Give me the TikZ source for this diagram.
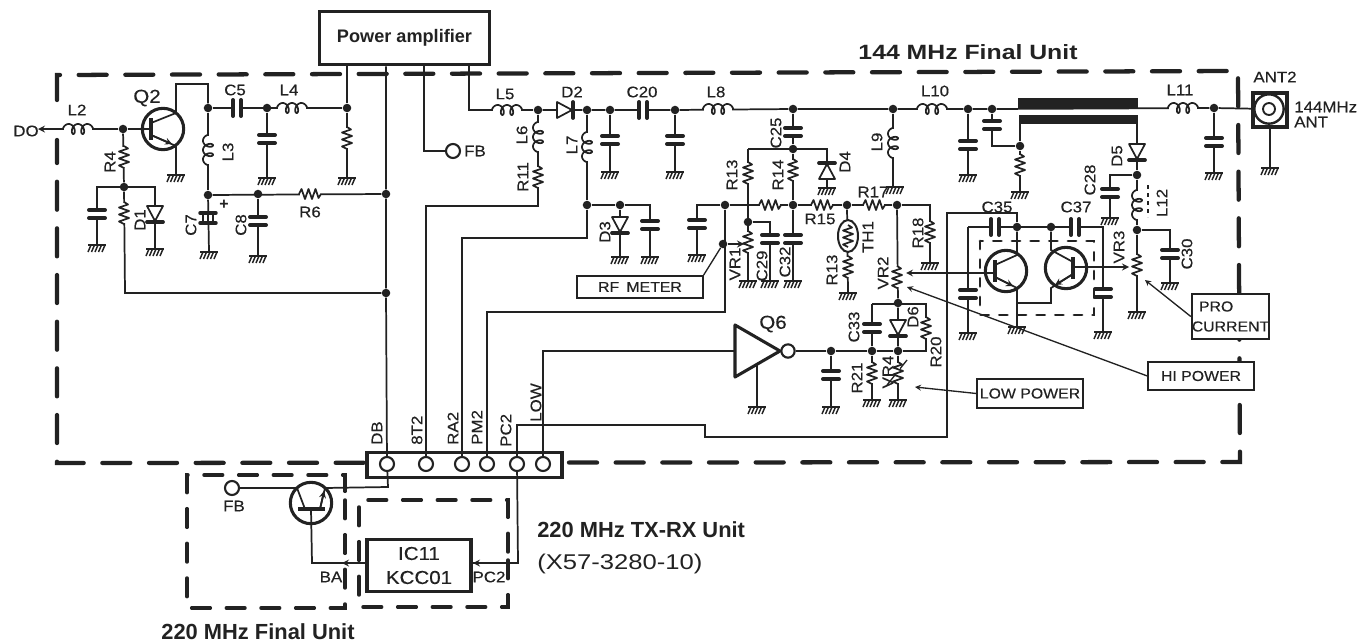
\documentclass[tikz,border=0pt]{standalone}
\usepackage{fontspec}
\setmainfont{Liberation Sans}
\newfontfamily\schemfont[FakeStretch=1.1, FakeBold=0.35]{Liberation Sans}
\newfontfamily\titlefont[FakeStretch=1.2]{Liberation Sans}
\usetikzlibrary{shapes.geometric}
\definecolor{schem}{HTML}{222222}
\tikzset{
    wire/.style={line width=1.3pt},
    note/.style={line width=1pt},
    dot/.style={circle, fill, inner sep=0pt, minimum size=6.4pt},
    lbl/.style={font=\schemfont\fontsize{11.5}{13}\selectfont, inner sep=0pt},
    bigtext/.style={font=\bfseries\fontsize{16.4}{18}\selectfont, inner sep=0pt},
    tagbox/.style={draw, fill=white, line width=1.5pt, inner sep=0pt, font=\schemfont\fontsize{10.8}{15}\selectfont},
    hole/.style={circle, draw, fill=white, line width=1.6pt, inner sep=0pt, minimum size=10.5pt},
    qcirc/.style={circle, draw, line width=2.3pt, inner sep=0pt, minimum size=31pt},
    unitdash/.style={line width=3.2pt, line cap=round, dash pattern=on 21pt off 14pt},
    subdash/.style={line width=2.6pt, line cap=round, dash pattern=on 14pt off 12pt},
    moddash/.style={line width=2.2pt, line cap=round, dash pattern=on 6pt off 8pt},
    res/.pic={
        \fill[white] (-10,-2) rectangle (10,2);
        \draw[wire, line join=round] (-11,0) -- (-8.5,-5) -- (-5,5) -- (-1.5,-5) -- (2,5) -- (5.5,-5) -- (8.5,4) -- (11,0);
    },
    ind/.pic={
        \fill[white] (-14,-2) rectangle (14,2);
        \draw[wire] plot[smooth, domain=90:990, samples=73, variable=\t] ({0.026*(\t-540)-3.5*sin(\t)},{5*cos(\t)});
    },
    cap/.pic={
        \fill[white] (-3,-3) rectangle (3,3);
        \draw[line width=3pt, line cap=round] (-4,-8) -- (-4,8) (4,-8) -- (4,8);
    },
    ecap/.pic={
        \fill[white] (-3,-3) rectangle (3,3);
        \draw[line width=2.6pt, line cap=round] (-5,-8) -- (-5,8) (5,-8) -- (5,8);
        \draw[wire] (-5,-5) -- (5,-5) (-5,0) -- (5,0) (-5,5) -- (5,5);
    },
    diode/.pic={
        \draw[wire, fill=white, line join=round] (-8,-8) -- (-8,8) -- (7,0) -- cycle;
        \draw[line width=2.8pt, line cap=round] (8,-8) -- (8,8);
    },
    gnd/.pic={
        \coordinate (-c) at (0,0);
        \draw[line width=1.8pt] (-9,0) -- (9,0);
        \draw[line width=1.1pt] (-6,0) -- (-9,7) (-2.5,0) -- (-5.5,7) (1,0) -- (-2,7) (4.5,0) -- (1.5,7) (8,0) -- (5,7);
    },
}
\begin{document}
\begin{tikzpicture}[x=.75pt, y=-.75pt, color=schem]
    \useasboundingbox (0,0) rectangle (1363,642);

    % Unit outlines
    \draw[unitdash] (57,100) -- (57,75) -- (1238,71) -- (1240,462) -- (57,463) -- (57,140);
    \draw[subdash] (345,500) -- (345,608) -- (187,608) -- (187,475) -- (345,475) -- cycle;
    \draw[subdash] (508,560) -- (508,607) -- (359,607) -- (359,500) -- (508,500) -- cycle;
    \draw[moddash] (980,241) rectangle (1094,315);

    % Boxes
    \node (pa) [draw, fill=white, line width=2.4pt, minimum width=128pt, minimum height=40pt, inner sep=0pt, font=\bfseries\fontsize{13.6}{15}\selectfont] at (404.5,38) {Power amplifier};
    \node (rfmeter) [tagbox, minimum width=94pt, minimum height=16.5pt] at (640,287) {RF\enspace METER};
    \node (hipower) [tagbox, minimum width=79pt, minimum height=21pt] at (1201,376) {HI POWER};
    \node (lowpower) [tagbox, minimum width=79pt, minimum height=21.5pt] at (1030,393.5) {LOW POWER};
    \node (procurrent) [tagbox, minimum width=56pt, minimum height=34pt, align=left] at (1230.5,316.5) {\enspace PRO\\CURRENT};
    \node (ic11) [draw, fill=white, line width=2.4pt, minimum width=78pt, minimum height=39pt, inner sep=0pt, align=center, font=\schemfont\fontsize{14}{18}\selectfont] at (419,565.5) {IC11\\KCC01};
    \node (strip) [draw, fill=white, line width=2.6pt, minimum width=146pt, minimum height=19pt, inner sep=0pt] at (464.5,465) {};
    \node (hDB) [hole] at (387,464) {};
    \node (hBT) [hole] at (426,464) {};
    \node (hRA) [hole] at (462,464) {};
    \node (hPM) [hole] at (487,464) {};
    \node (hPC) [hole] at (517,464) {};
    \node (hLOW) [hole] at (543,464) {};
    \node (ant) [draw, line width=2.8pt, minimum size=26pt, inner sep=0pt] at (1270,110) {};
    \node (antA) [circle, draw, line width=1.8pt, minimum size=22pt, inner sep=0pt] at (1269,109) {};
    \node (antB) [circle, draw, fill=white, line width=1.4pt, minimum size=9pt, inner sep=0pt] at (1269,109) {};
    \node (fbA) [hole] at (453,151) {};
    \node (fbB) [hole] at (232,488) {};

    % Junctions
    \node (jBase) [dot] at (123,129) {};
    \node (jC5a) [dot] at (208,108) {};
    \node (jC5b) [dot] at (267,108) {};
    \node (jL4) [dot] at (347,108) {};
    \node (jR6a) [dot] at (208,195) {};
    \node (jC8) [dot] at (258,194) {};
    \node (jR6b) [dot] at (386,194) {};
    \node (jR4) [dot] at (124,187) {};
    \node (jDB) [dot] at (386,293) {};
    \node (jL5) [dot] at (538,110) {};
    \node (jD2) [dot] at (587,110) {};
    \node (jCa) [dot] at (610,110) {};
    \node (jC20) [dot] at (675,110) {};
    \node (jC25) [dot] at (793,109) {};
    \node (jL9) [dot] at (893,109) {};
    \node (jC25b) [dot] at (793,149) {};
    \node (jL7) [dot] at (587,205) {};
    \node (jD3) [dot] at (620,205) {};
    \node (jPM) [dot] at (725,205) {};
    \node (jR14) [dot] at (793,205) {};
    \node (jTH) [dot] at (847,205) {};
    \node (jVRtwo) [dot] at (897,205) {};
    \node (jVRone) [dot] at (748,222) {};
    \node (jRF) [dot] at (723,244) {};
    \node (jVRlow) [dot] at (898,303) {};
    \node (jQsix) [dot] at (831,351) {};
    \node (jC33) [dot] at (872,351) {};
    \node (jD6) [dot] at (898,351) {};
    \node (jLa) [dot] at (968,109) {};
    \node (jLb) [dot] at (992,109) {};
    \node (jLc) [dot] at (1020,146) {};
    \node (jC35) [dot] at (1017,227) {};
    \node (jC37) [dot] at (1051,227) {};
    \node (jD5) [dot] at (1137,175) {};
    \node (jL12) [dot] at (1137,230) {};
    \node (jL11) [dot] at (1214,108) {};

    % Grounds
    \pic (gQ2) at (176,175) {gnd};
    \pic (gC5) at (267,178) {gnd};
    \pic (gL4) at (347,178) {gnd};
    \pic (gC7) at (209,252) {gnd};
    \pic (gC8) at (258,256) {gnd};
    \pic (gCa) at (97,245) {gnd};
    \pic (gD1) at (155,249) {gnd};
    \pic (gCb) at (610,172) {gnd};
    \pic (gCc) at (675,172) {gnd};
    \pic (gD3) at (620,257) {gnd};
    \pic (gCd) at (650,257) {gnd};
    \pic (gCe) at (697,255) {gnd};
    \pic (gVRone) at (748,281) {gnd};
    \pic (gC29) at (770,281) {gnd};
    \pic (gC32) at (793,281) {gnd};
    \pic (gD4) at (827,188) {gnd};
    \pic (gL9) at (895,187) {gnd};
    \pic (gR18) at (930,263) {gnd};
    \pic (gTH) at (848,293) {gnd};
    \pic (gQsix) at (757,407) {gnd};
    \pic (gCf) at (831,407) {gnd};
    \pic (gR21) at (872,400) {gnd};
    \pic (gVRfour) at (898,400) {gnd};
    \pic (gCg) at (968,175) {gnd};
    \pic (gLc) at (1020,192) {gnd};
    \pic (gC28) at (1110,218) {gnd};
    \pic (gC30) at (1170,283) {gnd};
    \pic (gVRthree) at (1137,312) {gnd};
    \pic (gCh) at (1214,173) {gnd};
    \pic (gAnt) at (1270,168) {gnd};
    \pic (gCi) at (968,333) {gnd};
    \pic (gQa) at (1017,327) {gnd};
    \pic (gCj) at (1103,332) {gnd};

    % Wires: input stage
    \coordinate (din) at (38,129);
    \coordinate (qtwoB) at (151,129);
    \draw[wire, -stealth] (jBase) -- (din);
    \draw[wire] (jBase) -- (qtwoB);
    \draw[wire] (jBase) -- (jR4);
    \draw[wire] (jR4) -- (125,293) -- (jDB);
    \draw[wire] (97,245) -- (97,187) -- (155,187) -- (gD1-c);
    \draw[wire] (jC5a) -- (jL4);
    \draw[wire] (jC5a) -- (jR6a);
    \draw[wire] (jC5b) -- (gC5-c);
    \draw[wire] (jL4) -- (gL4-c);
    \draw[wire] (jR6a) -- (jR6b);
    \draw[wire] (jR6a) -- (gC7-c);
    \draw[wire] (jC8) -- (gC8-c);

    % Wires: from the amplifier box
    \draw[wire] (pa.south -| jL4) -- (jL4);
    \draw[wire] (pa.south -| jR6b) -- (jR6b) -- (jDB) -- (hDB);
    \draw[wire] (424,65) -- (424,151) -- (fbA);
    \draw[wire] (469,65) -- (469,110) -- (jL5);

    % Wires: main line
    \draw[wire] (jL5) -- (jD2) -- (jCa) -- (jC20) -- (jC25) -- (jL9) -- (jLa) -- (jLb) -- (jL11) -- (antA);
    \draw[wire] (jL5) -- (538,206) -- (426,206) -- (hBT);
    \draw[wire] (jD2) -- (jL7) -- (587,238) -- (462,238) -- (hRA);
    \draw[wire] (jL7) -- (jD3) -- (650,205) -- (gCd-c);
    \draw[wire] (jD3) -- (gD3-c);
    \draw[wire] (jCa) -- (gCb-c);
    \draw[wire] (jC20) -- (gCc-c);
    \draw[wire] (jC25) -- (jC25b) -- (jR14) -- (gC32-c);
    \draw[wire] (jL9) -- (893,187);
    \draw[wire] (748,149) -- (827,149) -- (gD4-c);
    \draw[wire] (748,149) -- (gVRone-c);
    \draw[wire] (697,255) -- (697,205) -- (jPM) -- (jR14) -- (jTH) -- (jVRtwo) -- (930,205) -- (gR18-c);
    \draw[wire] (jPM) -- (725,312) -- (487,312) -- (hPM);
    \draw[wire] (jVRone) -- (770,222) -- (gC29-c);
    \draw[wire] (jTH) -- (gTH-c);
    \draw[wire] (jVRtwo) -- (jVRlow) -- (jD6);
    \draw[wire] (872,304) -- (926,304) -- (926,351) -- (jD6);
    \draw[wire] (872,304) -- (jC33);
    \draw[wire, -stealth] (jRF) -- (744,244);

    % Wires: Q6 stage
    \node (qsixinv) [circle, draw, line width=1.6pt, minimum size=10pt, inner sep=0pt] at (788,351) {};
    \draw[line width=2.3pt, fill=white, line join=round] (735,325) -- (735,377) -- (780,351) -- cycle;
    \draw[wire] (735,351) -- (543,351) -- (hLOW);
    \draw[wire] (757,364) -- (gQsix-c);
    \draw[wire] (qsixinv) -- (jQsix) -- (jC33) -- (jD6);
    \draw[wire] (jQsix) -- (gCf-c);
    \draw[wire] (jC33) -- (gR21-c);
    \draw[wire] (jD6) -- (gVRfour-c);

    % Wires: output stage
    \draw[wire] (jLa) -- (gCg-c);
    \draw[wire] (jLb) -- (992,146) -- (jLc) -- (gLc-c);
    \draw[wire] (1020,124) -- (jLc);
    \draw[wire] (1137,124) -- (jD5) -- (jL12) -- (gVRthree-c);
    \draw[wire] (jD5) -- (1110,175) -- (gC28-c);
    \draw[wire] (jL12) -- (1170,230) -- (gC30-c);
    \draw[wire] (jL11) -- (gCh-c);
    \draw[wire] (ant) -- (gAnt-c);
    \fill (1018,98) rectangle (1138,109);
    \fill (1019,115) rectangle (1138,124);
    \draw[wire] (968,227) -- (1103,227) -- (gCj-c);
    \draw[wire] (968,227) -- (gCi-c);
    \draw[wire] (jC35) -- (1017,213) -- (947,213) -- (947,437) -- (705,437) -- (705,425) -- (517,425) -- (hPC);
    \draw[wire] (hPC) -- (518,563) -- (ic11.east |- 518,563);
    \draw[wire, -stealth] (518,563) -- (473,563);

    % Transistors
    \node (qtwo) [qcirc] at (163,129) {};
    \draw[line width=3pt] (151,118) -- (151,140);
    \draw[wire] (151,123) -- (176,113) -- (176,84) -- (208,84) -- (jC5a);
    \draw[wire, -stealth] (151,135) -- (172,144);
    \draw[wire] (151,135) -- (176,146) -- (gQ2-c);
    \node (qa) [qcirc] at (1006,271) {};
    \draw[line width=3pt] (995,260) -- (995,282);
    \draw[wire] (995,265) -- (1017,255) -- (jC35);
    \draw[wire, -stealth] (995,277) -- (1013,286);
    \draw[wire] (995,277) -- (1017,288) -- (gQa-c);
    \draw[wire, -stealth] (995,273) -- (906,273);
    \node (qb) [qcirc] at (1066,268) {};
    \draw[line width=3pt] (1073,257) -- (1073,279);
    \draw[wire] (1073,262) -- (1051,250) -- (jC37);
    \draw[wire, -stealth] (1073,274) -- (1055,285);
    \draw[wire] (1073,274) -- (1051,288) -- (1051,303) -- (1017,303);
    \draw[wire, -stealth] (1073,267) -- (1129,267);
    \node (qf) [qcirc] at (311,503) {};
    \draw[line width=3pt] (298,509) -- (325,509);
    \draw[wire] (fbB) -- (297,488) -- (305,509);
    \draw[wire, -stealth] (320,509) -- (324,491);
    \draw[wire] (320,509) -- (325,488) -- (388,487) -- (hDB);
    \draw[wire] (311,509) -- (312,563) -- (ic11.west |- 312,563);
    \draw[wire, -stealth] (ic11.west |- 312,563) -- (342,563);

    % Notes to the trimmers
    \draw[note] (rfmeter.north east) -- (jRF);
    \draw[note, -stealth] (hipower.west) -- (907,287);
    \draw[note, -stealth] (procurrent.west) -- (1145,280);
    \draw[note, -stealth] (lowpower.west) -- (915,387);
    \draw[note] (887,385) -- (907,360);

    % Parts on the wires
    \pic at (78,129) {ind};
    \pic at (292,108) {ind};
    \pic[rotate=90] at (208,150) {ind};
    \pic at (507,110) {ind};
    \pic[rotate=90] at (538,137) {ind};
    \pic[rotate=90] at (587,147) {ind};
    \pic at (718,109) {ind};
    \pic[rotate=90] at (893,143) {ind};
    \pic at (932,109) {ind};
    \pic at (1183,108) {ind};
    \pic[rotate=90] at (1137,205) {ind};
    \pic[rotate=90] at (124,157) {res};
    \pic[rotate=90] at (124,213) {res};
    \pic[rotate=90] at (347,138) {res};
    \pic at (310,194) {res};
    \pic[rotate=90] at (538,177) {res};
    \pic[rotate=90] at (748,173) {res};
    \pic[rotate=90] at (793,170) {res};
    \pic[rotate=90] at (748,242) {res};
    \pic at (770,205) {res};
    \pic at (822,205) {res};
    \pic at (874,205) {res};
    \pic[rotate=90] at (930,232) {res};
    \pic[rotate=90] at (848,267) {res};
    \pic[rotate=90] at (897,277) {res};
    \pic[rotate=90] at (926,328) {res};
    \pic[rotate=90] at (872,373) {res};
    \pic[rotate=90] at (898,373) {res};
    \pic[rotate=90] at (1020,165) {res};
    \pic[rotate=90] at (1137,265) {res};
    \pic at (237,108) {cap};
    \pic[rotate=90] at (267,139) {cap};
    \pic[rotate=90] at (97,214) {cap};
    \pic[rotate=90] at (208,218) {ecap};
    \pic[rotate=90] at (258,221) {cap};
    \pic at (643,110) {cap};
    \pic[rotate=90] at (610,140) {cap};
    \pic[rotate=90] at (675,140) {cap};
    \pic[rotate=90] at (650,225) {cap};
    \pic[rotate=90] at (697,224) {cap};
    \pic[rotate=90] at (793,132) {cap};
    \pic[rotate=90] at (770,239) {cap};
    \pic[rotate=90] at (793,239) {cap};
    \pic[rotate=90] at (872,328) {cap};
    \pic[rotate=90] at (831,375) {cap};
    \pic[rotate=90] at (968,145) {cap};
    \pic[rotate=90] at (992,125) {cap};
    \pic at (995,227) {cap};
    \pic at (1075,227) {cap};
    \pic[rotate=90] at (968,294) {cap};
    \pic[rotate=90] at (1103,293) {cap};
    \pic[rotate=90] at (1110,193) {cap};
    \pic[rotate=90] at (1170,254) {cap};
    \pic[rotate=90] at (1214,142) {cap};
    \pic[rotate=-90] at (155,214) {diode};
    \pic at (565,110) {diode};
    \pic[rotate=-90] at (620,225) {diode};
    \pic[rotate=90] at (827,171) {diode};
    \pic[rotate=-90] at (898,328) {diode};
    \pic[rotate=-90] at (1137,152) {diode};
    \node (thone) [ellipse, draw, fill=white, line width=1.5pt, minimum width=15pt, minimum height=24pt, inner sep=0pt] at (848,236) {};
    \pic[rotate=90] at (848,236) {res};
    \draw[note, dashed] (1148,185) -- (1148,217);

    % Labels
    \node (lDO) [lbl] at (26,131) {DO};
    \node (lL2) [lbl] at (77,110) {L2};
    \node (lQ2) [lbl, font=\schemfont\fontsize{14}{15}\selectfont] at (147,98) {Q2};
    \node (lC5) [lbl] at (235,90) {C5};
    \node (lL4) [lbl] at (289,90) {L4};
    \node (lR4) [lbl, rotate=90] at (110,162) {R4};
    \node (lD1) [lbl, rotate=90] at (140,220) {D1};
    \node (lL3) [lbl, rotate=90] at (228,152) {L3};
    \node (lC7) [lbl, rotate=90] at (191,225) {C7};
    \node (lPlus) [lbl, font=\bfseries\fontsize{12}{14}\selectfont] at (224,205) {+};
    \node (lC8) [lbl, rotate=90] at (241,225) {C8};
    \node (lR6) [lbl] at (310,212) {R6};
    \node (lFBa) [lbl] at (475,151) {FB};
    \node (lL5) [lbl] at (505,94) {L5};
    \node (lD2) [lbl] at (572,92) {D2};
    \node (lC20) [lbl] at (642,92) {C20};
    \node (lL8) [lbl] at (716,92) {L8};
    \node (lL10) [lbl] at (935,91) {L10};
    \node (lL11) [lbl] at (1180,90) {L11};
    \node (lL6) [lbl, rotate=90] at (522,135) {L6};
    \node (lR11) [lbl, rotate=90] at (523,177) {R11};
    \node (lL7) [lbl, rotate=90] at (572,145) {L7};
    \node (lD3) [lbl, rotate=90] at (605,232) {D3};
    \node (lC25) [lbl, rotate=90] at (776,133) {C25};
    \node (lR13) [lbl, rotate=90] at (732,175) {R13};
    \node (lR14) [lbl, rotate=90] at (778,175) {R14};
    \node (lD4) [lbl, rotate=90] at (845,162) {D4};
    \node (lL9) [lbl, rotate=90] at (877,142) {L9};
    \node (lR15) [lbl] at (820,219) {R15};
    \node (lR17) [lbl] at (873,192) {R17};
    \node (lR18) [lbl, rotate=90] at (918,233) {R18};
    \node (lVR1) [lbl, rotate=90] at (735,264) {VR1};
    \node (lC29) [lbl, rotate=90] at (762,266) {C29};
    \node (lC32) [lbl, rotate=90] at (785,262) {C32};
    \node (lTH1) [lbl, rotate=90] at (868,237) {TH1};
    \node (lRthree) [lbl, rotate=90] at (832,270) {R13};
    \node (lVR2) [lbl, rotate=90] at (883,273) {VR2};
    \node (lQ6) [lbl, font=\schemfont\fontsize{14}{15}\selectfont] at (773,324) {Q6};
    \node (lC33) [lbl, rotate=90] at (854,327) {C33};
    \node (lD6) [lbl, rotate=90] at (913,317) {D6};
    \node (lR20) [lbl, rotate=90] at (936,352) {R20};
    \node (lR21) [lbl, rotate=90] at (857,378) {R21};
    \node (lVR4) [lbl, rotate=90] at (888,372) {VR4};
    \node (lC35) [lbl] at (997,207) {C35};
    \node (lC37) [lbl] at (1076,207) {C37};
    \node (lC28) [lbl, rotate=90] at (1090,180) {C28};
    \node (lD5) [lbl, rotate=90] at (1117,156) {D5};
    \node (lL12) [lbl, rotate=90] at (1162,203) {L12};
    \node (lVR3) [lbl, rotate=90] at (1119,247) {VR3};
    \node (lC30) [lbl, rotate=90] at (1187,254) {C30};
    \node (lANTtwo) [lbl] at (1275,77) {ANT2};
    \node (lANTa) [lbl, anchor=west] at (1294,107) {144MHz};
    \node (lANTb) [lbl, anchor=west] at (1294,122) {ANT};
    \node (lDB) [lbl, rotate=90, anchor=west] at (377,445) {DB};
    \node (lBT) [lbl, rotate=90, anchor=west] at (417,445) {8T2};
    \node (lRA) [lbl, rotate=90, anchor=west] at (453,445) {RA2};
    \node (lPM) [lbl, rotate=90, anchor=west] at (477,445) {PM2};
    \node (lPC) [lbl, rotate=90, anchor=west] at (506,447) {PC2};
    \node (lLOW) [lbl, rotate=90, anchor=west] at (536,422) {LOW};
    \node (lFBb) [lbl] at (234,506) {FB};
    \node (lBA) [lbl] at (331,577) {BA};
    \node (lPCb) [lbl] at (489,577) {PC2};

    % Titles
    \node (tFinal) [inner sep=0pt, font=\titlefont\bfseries\fontsize{15.5}{18}\selectfont] at (968,52) {144 MHz Final Unit};
    \node (tTX) [bigtext, anchor=west] at (537,530) {220 MHz TX-RX Unit};
    \node (tX57) [inner sep=0pt, font=\titlefont\fontsize{16}{18}\selectfont, anchor=west] at (537,564) {(X57-3280-10)};
    \node (tFinalb) [bigtext] at (258,632) {220 MHz Final Unit};
\end{tikzpicture}
\end{document}
